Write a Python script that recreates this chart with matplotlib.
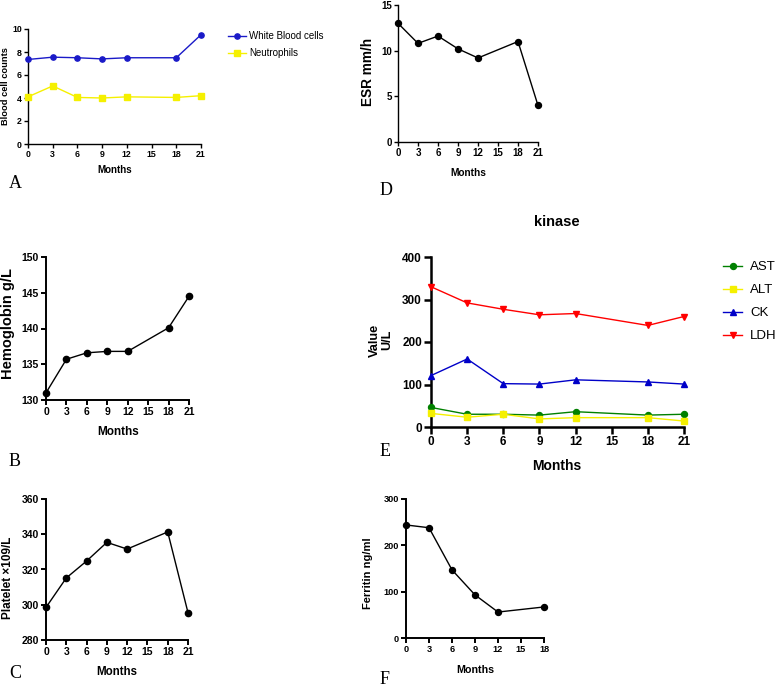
import matplotlib
matplotlib.use("Agg")
import matplotlib.pyplot as plt

plt.rcParams['font.family'] = ['Liberation Sans', 'DejaVu Sans']

# ---------------- data ----------------
months = [0, 3, 6, 9, 12, 18, 21]
months_f = [0, 3, 6, 9, 12, 18]
xticks21 = [0, 3, 6, 9, 12, 15, 18, 21]
xticks18 = [0, 3, 6, 9, 12, 15, 18]

wbc = [7.35, 7.55, 7.5, 7.4, 7.5, 7.5, 9.5]
neut = [4.1, 5.05, 4.05, 4.0, 4.1, 4.05, 4.2]

esr = [13.0, 10.8, 11.6, 10.2, 9.2, 11.0, 4.0]

hgb = [131.0, 135.7, 136.6, 136.8, 136.8, 140.1, 144.5]

plt_vals = [298.5, 315.2, 324.8, 335.4, 331.6, 341.3, 295.5]

ast = [46, 30, 30, 28, 36, 28, 30]
alt = [32, 23, 30, 19, 22, 22, 14]
ck = [121, 160, 102, 101, 111, 106, 101]
ldh = [330, 292, 277, 264, 267, 239, 260]

ferritin = [244, 238, 147, 93, 56, 67]

# ---------------- layout helpers ----------------
W, H = 778, 688
fig = plt.figure(figsize=(W / 100, H / 100), dpi=100)


def add_ax(x0, x1, ytop, ybot):
    return fig.add_axes([x0 / W, 1 - ybot / H, (x1 - x0) / W, (ybot - ytop) / H])


def style(ax, lw, tfs, ylim, yticks, xt, xmax, tl=3.5):
    ax.set_xlim(0, xmax)
    ax.set_ylim(*ylim)
    ax.set_xticks(xt)
    ax.set_yticks(yticks)
    for s in ['top', 'right']:
        ax.spines[s].set_visible(False)
    for s in ['left', 'bottom']:
        ax.spines[s].set_linewidth(lw)
    ax.tick_params(width=lw, length=tl, labelsize=tfs, pad=1.5)
    for lab in ax.get_xticklabels() + ax.get_yticklabels():
        lab.set_fontweight('bold')


def labels(ax, xl, xl_pos, yl, yl_pos, xfs, yfs):
    ax.set_xlabel(xl, fontsize=xfs, fontweight='bold', va='center')
    ax.xaxis.set_label_coords(xl_pos[0] / W, 1 - xl_pos[1] / H, transform=fig.transFigure)
    ax.set_ylabel(yl, fontsize=yfs, fontweight='bold', va='center', linespacing=1.0)
    ax.yaxis.set_label_coords(yl_pos[0] / W, 1 - yl_pos[1] / H, transform=fig.transFigure)


def letter(ch, x, y):
    fig.text(x / W, 1 - y / H, ch, family='Liberation Serif', fontsize=13,
             ha='left', va='center')


def mk(ms, marker='o'):
    return dict(marker=marker, markersize=ms, clip_on=False, zorder=3)


# ---------------- A ----------------
axA = add_ax(28, 201, 29, 144)
axA.plot(months, wbc, color='#1a1ac8', lw=1.0, label='White Blood cells', **mk(3.8))
axA.plot(months, neut, color='#f5f000', lw=1.0, label='Neutrophils', **mk(3.8, 's'))
style(axA, 1.0, 6.3, (0, 10), [0, 2, 4, 6, 8, 10], xticks21, 21, 3)
labels(axA, 'Months', (115, 170), 'Blood cell counts', (6, 86), 7, 6.7)
axA.legend(loc='upper left', bbox_to_anchor=(228 / W, 1 - 31 / H),
           bbox_transform=fig.transFigure, frameon=False, fontsize=7,
           handlelength=1.8, handletextpad=0.4, labelspacing=0.75,
           borderaxespad=0, borderpad=0)
letter('A', 9, 184)

# ---------------- D ----------------
axD = add_ax(398, 538, 5, 142)
axD.plot(months, esr, color='black', lw=1.0, **mk(4.3))
style(axD, 1.0, 7.0, (0, 15), [0, 5, 10, 15], xticks21, 21, 3)
labels(axD, 'Months', (468, 173), 'ESR mm/h', (368, 72), 7.3, 9.8)
letter('D', 380, 190)

# ---------------- B ----------------
axB = add_ax(46, 189, 257, 400)
axB.plot(months, hgb, color='black', lw=1.0, **mk(4.5))
style(axB, 1.4, 7.5, (130, 150), [130, 135, 140, 145, 150], xticks21, 21)
labels(axB, 'Months', (118, 432), 'Hemoglobin g/L', (8, 323), 8.5, 10.5)
letter('B', 9, 462)

# ---------------- E ----------------
axE = add_ax(431, 684, 257, 427)
axE.plot(months, ast, color='#008000', lw=1.0, label='AST', **mk(4.3))
axE.plot(months, alt, color='#f5f000', lw=1.0, label='ALT', **mk(4.3, 's'))
axE.plot(months, ck, color='#0000c8', lw=1.0, label='CK', **mk(5, '^'))
axE.plot(months, ldh, color='#ff0000', lw=1.0, label='LDH', **mk(5, 'v'))
style(axE, 1.8, 8.5, (0, 400), [0, 100, 200, 300, 400], xticks21, 21, 5)
labels(axE, 'Months', (557, 466), 'Value\nU/L', (381, 340), 10, 9.2)
fig.text(557 / W, 1 - 222 / H, 'kinase', fontsize=10.5, fontweight='bold',
         ha='center', va='center')
axE.legend(loc='upper left', bbox_to_anchor=(723 / W, 1 - 261 / H),
           bbox_transform=fig.transFigure, frameon=False, fontsize=9.5,
           handlelength=1.45, handletextpad=0.6, labelspacing=0.82,
           borderaxespad=0, borderpad=0)
letter('E', 380, 452)

# ---------------- C ----------------
axC = add_ax(46, 188, 499, 640)
axC.plot(months, plt_vals, color='black', lw=1.0, **mk(4.5))
style(axC, 1.4, 7.5, (280, 360), [280, 300, 320, 340, 360], xticks21, 21)
labels(axC, 'Months', (117, 672), 'Platelet \u00d7109/L', (8, 578), 8.3, 8.5)
letter('C', 9, 673)

# ---------------- F ----------------
axF = add_ax(406, 544, 499, 638)
axF.plot(months_f, ferritin, color='black', lw=1.0, **mk(4.3))
style(axF, 1.4, 6.6, (0, 300), [0, 100, 200, 300], xticks18, 18)
labels(axF, 'Months', (475, 670), 'Ferritin ng/ml', (368, 573), 7.7, 8.0)
letter('F', 380, 680)

fig.savefig('out.png', dpi=100)
